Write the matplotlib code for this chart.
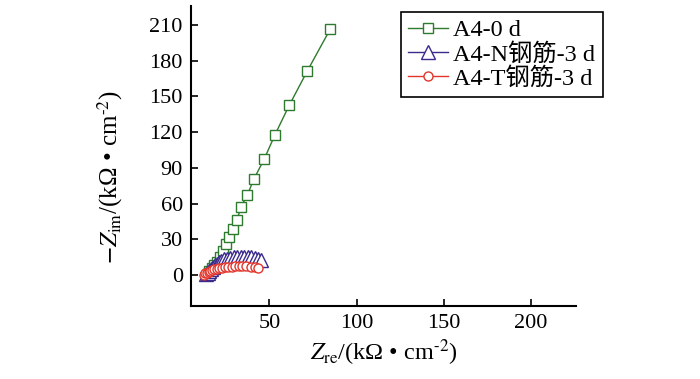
import matplotlib
matplotlib.use("Agg")
import matplotlib.pyplot as plt

plt.rcParams['font.family'] = ['Liberation Serif', 'Noto Sans CJK SC']
plt.rcParams['mathtext.fontset'] = 'stix'

# Data
a40_x = [14.5, 15.5, 16.8, 18.2, 19.6, 21.5, 23.3, 25.2, 26.9, 29.2, 31.3, 33.6, 37.2, 41.2, 47, 53.2, 61.3, 71.8, 84.9]
a40_y = [1, 3, 5.5, 8, 11, 15, 19.7, 25.8, 31.7, 38.6, 46, 57, 67, 81, 97.5, 118, 142.5, 171.7, 206.7]

n_x = [13.5, 14.5, 15.5, 16.5, 17.5, 18.5, 19.7, 21, 22.4, 24, 25.8, 27.6, 29.5, 31.5, 33.5, 35.5, 37.5, 39.5, 41.5, 43.5, 45.4]
n_y = [0.5, 2, 3.5, 5, 6.5, 8, 9.5, 10.8, 12, 13, 13.8, 14.4, 14.8, 15.1, 15.3, 15.3, 15.2, 15.0, 14.6, 13.8, 12.5]

t_x = [12.5, 13.2, 14, 15, 16, 17, 18.3, 19.7, 21.2, 22.8, 24.5, 26.3, 28.2, 30.2, 32.3, 34.5, 36.8, 39.2, 41.5, 43.6]
t_y = [0.3, 1.2, 2, 2.8, 3.5, 4.1, 4.7, 5.2, 5.7, 6.1, 6.5, 6.8, 7.0, 7.1, 7.2, 7.2, 7.1, 6.9, 6.5, 5.6]

labels = ['A4-0 d', 'A4-N钢筋-3 d', 'A4-T钢筋-3 d']
x_ticks = [50, 100, 150, 200]
y_ticks = [0, 30, 60, 90, 120, 150, 180, 210]

fig = plt.figure(figsize=(7.0, 3.79), dpi=100)
ax = fig.add_axes([0.273, 0.193, 0.55, 0.791])

green = '#2e7a2e'
blue = '#3b2a8c'
red = '#e2352b'

ax.plot(a40_x, a40_y, color=green, lw=1.0, marker='s', ms=7, mfc='white', mec=green, mew=1.0, label=labels[0])
ax.plot(n_x, n_y, color=blue, lw=1.0, marker='^', ms=9.5, mfc='white', mec=blue, mew=1.0, label=labels[1])
ax.plot(t_x, t_y, color=red, lw=1.0, marker='o', ms=6.5, mfc='white', mec=red, mew=1.0, label=labels[2])

ax.set_xlim(5, 226)
ax.set_ylim(-26, 226)
ax.set_xticks(x_ticks)
ax.set_yticks(y_ticks)
ax.tick_params(direction='in', length=5, width=1.2, labelsize=16, pad=6)

for s in ['top', 'right']:
    ax.spines[s].set_visible(False)
for s in ['left', 'bottom']:
    ax.spines[s].set_linewidth(1.5)

ax.set_xlabel(r'$Z_{\rm re}$/(kΩ • cm$^{\text{-2}}$)', fontsize=17.5, labelpad=3)
ax.set_ylabel(r'$-Z_{\rm im}$/(kΩ • cm$^{\text{-2}}$)', fontsize=18)
ax.yaxis.set_label_coords(-0.171, 0.43)

leg = fig.legend(loc='upper left', bbox_to_anchor=(0.573, 0.968), fontsize=17.5,
                 frameon=True, fancybox=False, edgecolor='black', framealpha=1,
                 handlelength=1.65, handletextpad=0.2, borderpad=0.3, labelspacing=0.06,
                 borderaxespad=0)
leg.get_frame().set_linewidth(1.2)

fig.savefig('out.png', dpi=100)
